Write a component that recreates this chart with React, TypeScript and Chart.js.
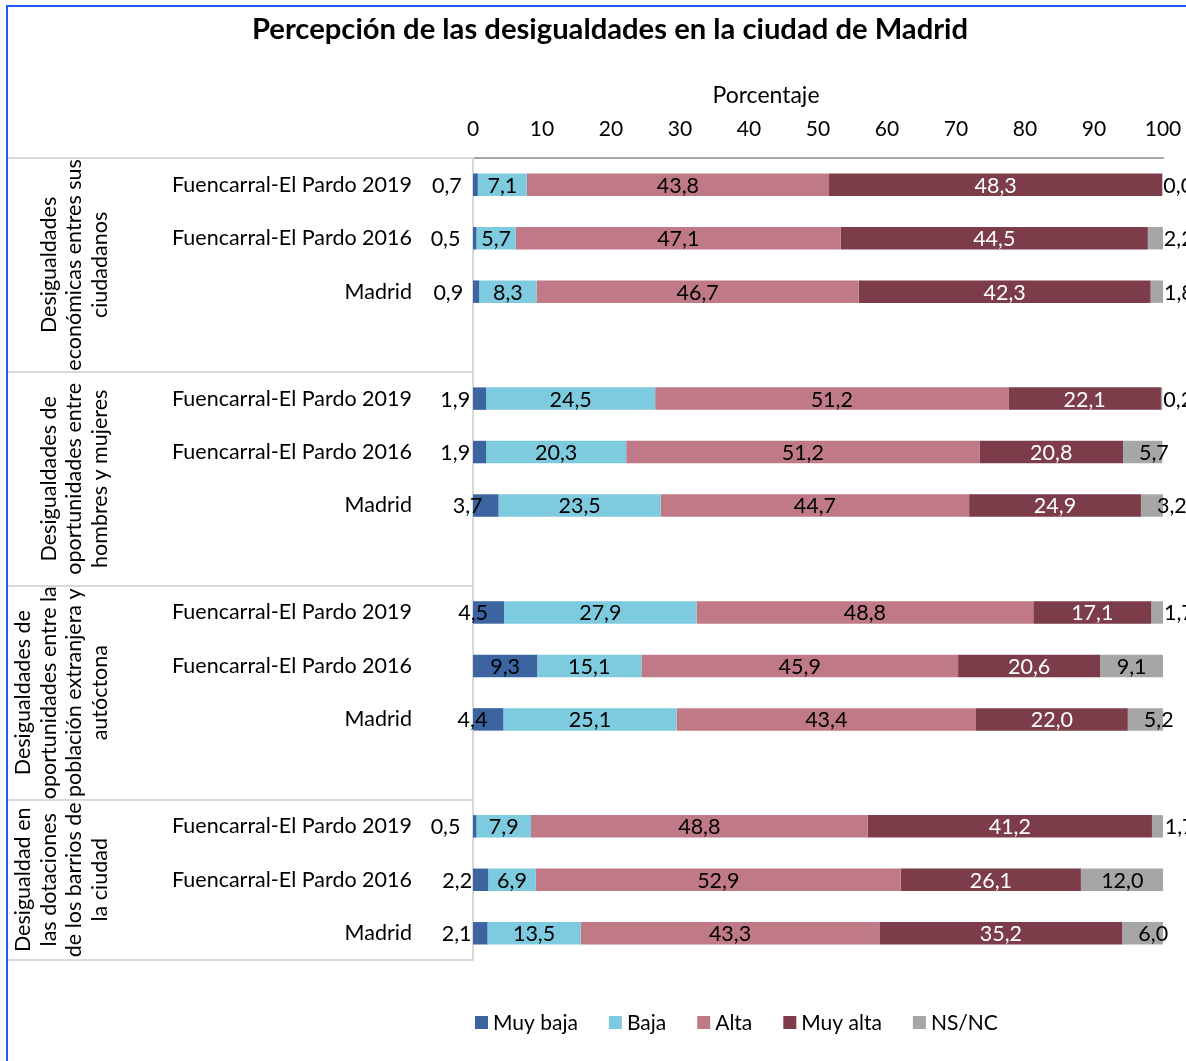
import React, { useEffect, useRef } from 'react';
import { Chart, registerables } from 'chart.js';

Chart.register(...registerables);

const FONT = 'Lato, "Noto Sans", sans-serif';

const categories = [
  'Fuencarral-El Pardo 2019', 'Fuencarral-El Pardo 2016', 'Madrid', '',
  'Fuencarral-El Pardo 2019', 'Fuencarral-El Pardo 2016', 'Madrid', '',
  'Fuencarral-El Pardo 2019', 'Fuencarral-El Pardo 2016', 'Madrid', '',
  'Fuencarral-El Pardo 2019', 'Fuencarral-El Pardo 2016', 'Madrid',
];

const groupLabels = [
  ['Desigualdades', 'económicas entres sus', 'ciudadanos'],
  ['Desigualdades de', 'oportunidades entre', 'hombres y mujeres'],
  ['Desigualdades de', 'oportunidades entre la', 'población extranjera y', 'autóctona'],
  ['Desigualdad en', 'las dotaciones', 'de los barrios de', 'la ciudad'],
];
const groupStartRows = [0, 4, 8, 12];
const groupEndRows = [4, 8, 12, 15];

const muyBaja = [0.7, 0.5, 0.9, null, 1.9, 1.9, 3.7, null, 4.5, 9.3, 4.4, null, 0.5, 2.2, 2.1];
const baja = [7.1, 5.7, 8.3, null, 24.5, 20.3, 23.5, null, 27.9, 15.1, 25.1, null, 7.9, 6.9, 13.5];
const alta = [43.8, 47.1, 46.7, null, 51.2, 51.2, 44.7, null, 48.8, 45.9, 43.4, null, 48.8, 52.9, 43.3];
const muyAlta = [48.3, 44.5, 42.3, null, 22.1, 20.8, 24.9, null, 17.1, 20.6, 22.0, null, 41.2, 26.1, 35.2];
const nsnc = [0.0, 2.2, 1.8, null, 0.2, 5.7, 3.2, null, 1.7, 9.1, 5.2, null, 1.7, 12.0, 6.0];

const seriesNames = ['Muy baja', 'Baja', 'Alta', 'Muy alta', 'NS/NC'];
const seriesColors = ['#3b64a0', '#7ecbe0', '#c07a87', '#7d3c4a', '#a6a6a6'];
const labelColors = ['#000000', '#000000', '#000000', '#ffffff', '#000000'];

const xTickValues = [0, 10, 20, 30, 40, 50, 60, 70, 80, 90, 100];

const chartTitle = 'Percepción de las desigualdades en la ciudad de Madrid';
const axisTitle = 'Porcentaje';

const fmt = (v: number) => v.toFixed(1).replace('.', ',');

const decorPlugin = {
  id: 'decor',
  beforeDraw(chart: any) {
    const { ctx, width, height } = chart;
    ctx.save();
    ctx.fillStyle = '#ffffff';
    ctx.fillRect(0, 0, width, height);
    ctx.strokeStyle = '#1f5cff';
    ctx.lineWidth = 2;
    ctx.beginPath();
    ctx.moveTo(7, height);
    ctx.lineTo(7, 6);
    ctx.lineTo(width, 6);
    ctx.stroke();
    ctx.restore();
  },
  afterDraw(chart: any) {
    const { ctx, chartArea } = chart;
    const yScale = chart.scales.y;
    ctx.save();
    // title
    ctx.fillStyle = '#000000';
    ctx.font = `bold 29.2px ${FONT}`;
    ctx.textAlign = 'center';
    ctx.textBaseline = 'middle';
    ctx.fillText(chartTitle, 610, 30);
    // axis title
    ctx.font = `23px ${FONT}`;
    ctx.fillText(axisTitle, 766, 96);

    // separators
    ctx.strokeStyle = '#d9d9d9';
    ctx.lineWidth = 2;
    const bounds = [...groupStartRows, groupEndRows[groupEndRows.length - 1]];
    bounds.forEach((r) => {
      const y = Math.round(yScale.getPixelForValue(r - 0.5));
      ctx.beginPath();
      ctx.moveTo(8, y);
      ctx.lineTo(chartArea.left, y);
      ctx.stroke();
    });

    // group labels (rotated)
    ctx.fillStyle = '#000000';
    ctx.font = `21.5px ${FONT}`;
    groupLabels.forEach((lines, g) => {
      const top = yScale.getPixelForValue(groupStartRows[g] - 0.5);
      const bottom = yScale.getPixelForValue(groupEndRows[g] - 0.5);
      const cy = (top + bottom) / 2;
      const n = lines.length;
      lines.forEach((line, i) => {
        const cx = 100 - (n - 1 - i) * 25.5;
        ctx.save();
        ctx.translate(cx, cy);
        ctx.rotate(-Math.PI / 2);
        ctx.textAlign = 'center';
        ctx.textBaseline = 'middle';
        ctx.fillText(line, 0, 0);
        ctx.restore();
      });
    });

    // legend
    ctx.font = `21px ${FONT}`;
    ctx.textAlign = 'left';
    ctx.textBaseline = 'middle';
    let lx = 475;
    const ly = 1023;
    seriesNames.forEach((name, i) => {
      ctx.fillStyle = seriesColors[i];
      ctx.fillRect(lx, ly - 7, 13, 13);
      ctx.fillStyle = '#000000';
      ctx.fillText(name, lx + 18, ly);
      lx += 18 + ctx.measureText(name).width + 31;
    });
    ctx.restore();
  },
  afterDatasetsDraw(chart: any) {
    const { ctx } = chart;
    ctx.save();
    ctx.font = `21.5px ${FONT}`;
    ctx.textBaseline = 'middle';
    chart.data.datasets.forEach((ds: any, di: number) => {
      const meta = chart.getDatasetMeta(di);
      meta.data.forEach((el: any, i: number) => {
        const v = ds.data[i];
        if (v === null || v === undefined) return;
        const { x, y, base } = el.getProps(['x', 'y', 'base'], true);
        const txt = fmt(v);
        ctx.fillStyle = labelColors[di];
        if (di === 0 && v < 9) {
          ctx.textAlign = 'right';
          ctx.fillText(txt, x - 16, y + 1);
        } else if (di === 4 && v < 9) {
          ctx.textAlign = 'left';
          ctx.fillText(txt, Math.min(base + 16, x + 1), y + 1);
        } else {
          ctx.textAlign = 'center';
          ctx.fillText(txt, (x + base) / 2, y + 1);
        }
      });
    });
    ctx.restore();
  },
};

export default function App() {
  const canvasRef = useRef<HTMLCanvasElement | null>(null);

  useEffect(() => {
    if (!canvasRef.current) return;
    const seriesData = [muyBaja, baja, alta, muyAlta, nsnc];
    const chart = new Chart(canvasRef.current, {
      type: 'bar',
      data: {
        labels: categories,
        datasets: seriesData.map((d, i) => ({
          label: seriesNames[i],
          data: d,
          backgroundColor: seriesColors[i],
          borderWidth: 0,
          barPercentage: 0.42,
          categoryPercentage: 1,
        })),
      },
      options: {
        indexAxis: 'y',
        responsive: false,
        animation: false,
        devicePixelRatio: 1,
        layout: { padding: { left: 8, right: 23, top: 113, bottom: 101 } },
        plugins: {
          legend: { display: false },
          title: { display: false },
          tooltip: { enabled: false },
        },
        scales: {
          x: {
            type: 'linear',
            position: 'top',
            stacked: true,
            min: 0,
            max: 100,
            afterFit: (s: any) => { s.height = 45; s.paddingLeft = 0; s.paddingRight = 0; },
            afterBuildTicks: (s: any) => { s.ticks = xTickValues.map((v) => ({ value: v })); },
            ticks: {
              font: { family: FONT, size: 21 },
              color: '#000000',
              padding: 16,
              maxRotation: 0,
            },
            grid: { display: false, drawTicks: false },
            border: { display: true, color: '#a6a6a6', width: 2 },
          },
          y: {
            type: 'category',
            stacked: true,
            afterFit: (s: any) => { s.width = 465; },
            ticks: {
              font: { family: FONT, size: 21.5 },
              color: '#000000',
              padding: 61,
              autoSkip: false,
            },
            grid: { display: false, drawTicks: false },
            border: { display: true, color: '#d9d9d9', width: 2 },
          },
        },
      },
      plugins: [decorPlugin],
    } as any);
    return () => chart.destroy();
  }, []);

  return (
    <div style={{ position: 'absolute', left: 0, top: 0, width: 1186, height: 1061 }}>
      <canvas ref={canvasRef} width={1186} height={1061} style={{ display: 'block' }} />
    </div>
  );
}
